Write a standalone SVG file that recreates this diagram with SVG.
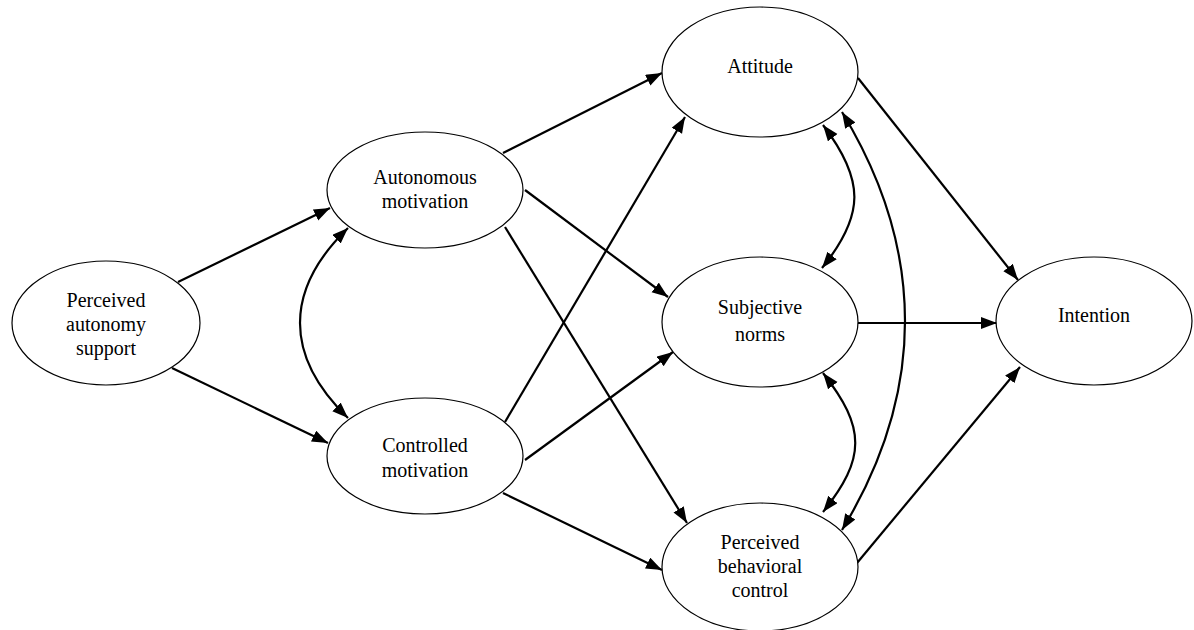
<svg xmlns="http://www.w3.org/2000/svg" width="1194" height="630" viewBox="0 0 1194 630">
<style>
.node ellipse{fill:#fff;stroke:#000;stroke-width:1.2}
.node text{font-family:"Liberation Serif","Times New Roman",serif;font-size:20px;fill:#000;text-anchor:middle}
.edges path{fill:none;stroke:#000;stroke-width:2.2}
</style>
<defs>
<marker id="ah" markerUnits="userSpaceOnUse" markerWidth="18" markerHeight="14" refX="16" refY="6" orient="auto-start-reverse">
<path d="M0,0 L16,6 L0,12 z" fill="#000"/>
</marker>
</defs>
<rect width="1194" height="630" fill="#fff"/>
<g class="edges">
<path d="M178,282 L330,208" marker-end="url(#ah)"/>
<path d="M172,368 L328,443" marker-end="url(#ah)"/>
<path d="M348,228 C284,290 284,356 348,418" marker-start="url(#ah)" marker-end="url(#ah)"/>
<path d="M503,153 L662,73" marker-end="url(#ah)"/>
<path d="M525,190 L668,297" marker-end="url(#ah)"/>
<path d="M505,227 L687,523" marker-end="url(#ah)"/>
<path d="M505,422 L685,117" marker-end="url(#ah)"/>
<path d="M525,460 L673,352" marker-end="url(#ah)"/>
<path d="M503,493 L662,570" marker-end="url(#ah)"/>
<path d="M823,125 C865,180 865,215 822,268" marker-start="url(#ah)" marker-end="url(#ah)"/>
<path d="M823,373 C866,428 866,458 823,512" marker-start="url(#ah)" marker-end="url(#ah)"/>
<path d="M842,112 C926,250 926,392 842,530" marker-start="url(#ah)" marker-end="url(#ah)"/>
<path d="M858,78 L1018,280" marker-end="url(#ah)"/>
<path d="M857,323 L997,323" marker-end="url(#ah)"/>
<path d="M857,563 L1020,367" marker-end="url(#ah)"/>
</g>
<g id="pas" class="node">
<ellipse cx="106" cy="323" rx="94" ry="62"/>
<text x="106" y="307">Perceived</text>
<text x="106" y="331">autonomy</text>
<text x="106" y="355">support</text>
</g>
<g id="am" class="node">
<ellipse cx="425" cy="190" rx="98" ry="58"/>
<text x="425" y="184">Autonomous</text>
<text x="425" y="208">motivation</text>
</g>
<g id="cm" class="node">
<ellipse cx="425" cy="456" rx="98" ry="58"/>
<text x="425" y="452">Controlled</text>
<text x="425" y="477">motivation</text>
</g>
<g id="att" class="node">
<ellipse cx="760" cy="72" rx="98" ry="65"/>
<text x="760" y="73">Attitude</text>
</g>
<g id="sn" class="node">
<ellipse cx="760" cy="322" rx="98" ry="65"/>
<text x="760" y="314">Subjective</text>
<text x="760" y="341">norms</text>
</g>
<g id="pbc" class="node">
<ellipse cx="760" cy="567" rx="98" ry="64"/>
<text x="760" y="549">Perceived</text>
<text x="760" y="573">behavioral</text>
<text x="760" y="597">control</text>
</g>
<g id="int" class="node">
<ellipse cx="1094" cy="321" rx="98" ry="64"/>
<text x="1094" y="322">Intention</text>
</g>
</svg>
